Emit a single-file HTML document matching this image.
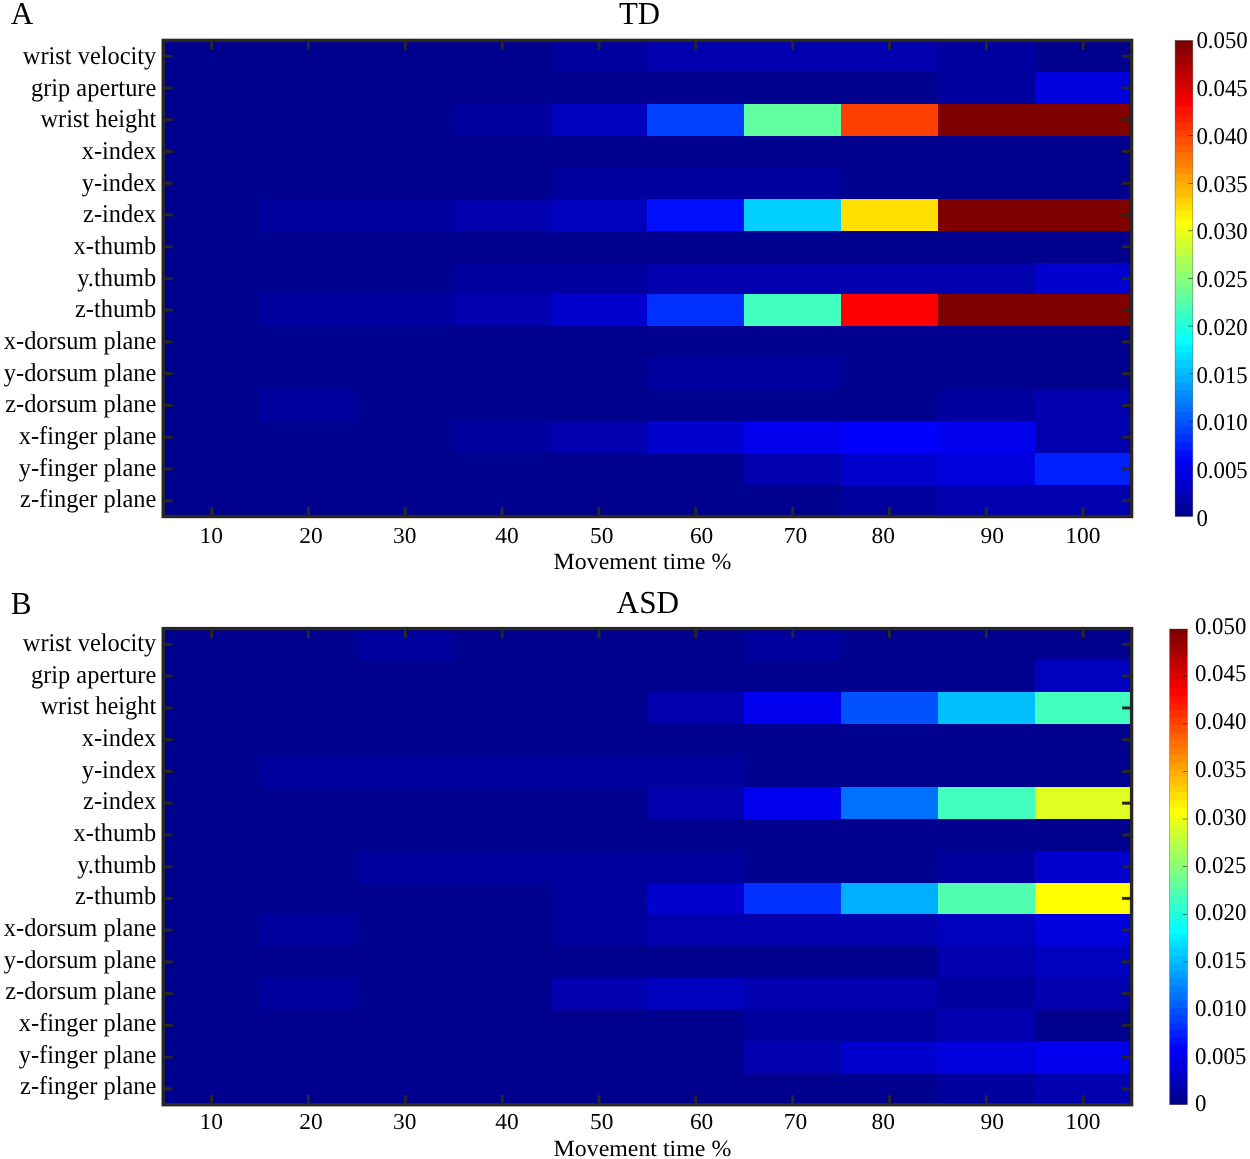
<!DOCTYPE html>
<html><head><meta charset="utf-8"><title>Figure</title>
<style>
html,body{margin:0;padding:0;background:#fff;}
body{width:1250px;height:1159px;overflow:hidden;}
svg{will-change:transform;display:block;position:absolute;left:0;top:0;}
text{text-rendering:geometricPrecision;font-family:"Liberation Serif",serif;font-size:24px;fill:#000;}
</style></head><body>
<svg width="1250" height="1159" viewBox="0 0 1250 1159">
<rect width="1250" height="1159" fill="#fff"/>
<rect x="163" y="40" width="388" height="32" fill="#00008F"/>
<rect x="551" y="40" width="96" height="32" fill="#00009F"/>
<rect x="647" y="40" width="291" height="32" fill="#0000AF"/>
<rect x="938" y="40" width="97" height="32" fill="#00009F"/>
<rect x="1035" y="40" width="97" height="32" fill="#00008F"/>
<rect x="163" y="72" width="775" height="32" fill="#00008F"/>
<rect x="938" y="72" width="97" height="32" fill="#00009F"/>
<rect x="1035" y="72" width="97" height="32" fill="#0000DF"/>
<rect x="163" y="104" width="291" height="32" fill="#00008F"/>
<rect x="454" y="104" width="97" height="32" fill="#00009F"/>
<rect x="551" y="104" width="96" height="32" fill="#0000BF"/>
<rect x="647" y="104" width="97" height="32" fill="#0040FF"/>
<rect x="744" y="104" width="97" height="32" fill="#60FF9F"/>
<rect x="841" y="104" width="97" height="32" fill="#FF4000"/>
<rect x="938" y="104" width="194" height="32" fill="#800000"/>
<rect x="163" y="136" width="969" height="31" fill="#00008F"/>
<rect x="163" y="167" width="388" height="32" fill="#00008F"/>
<rect x="551" y="167" width="290" height="32" fill="#00009F"/>
<rect x="841" y="167" width="291" height="32" fill="#00008F"/>
<rect x="163" y="199" width="97" height="32" fill="#00008F"/>
<rect x="260" y="199" width="194" height="32" fill="#00009F"/>
<rect x="454" y="199" width="97" height="32" fill="#0000AF"/>
<rect x="551" y="199" width="96" height="32" fill="#0000BF"/>
<rect x="647" y="199" width="97" height="32" fill="#0010FF"/>
<rect x="744" y="199" width="97" height="32" fill="#00CFFF"/>
<rect x="841" y="199" width="97" height="32" fill="#FFDF00"/>
<rect x="938" y="199" width="194" height="32" fill="#800000"/>
<rect x="163" y="231" width="969" height="32" fill="#00008F"/>
<rect x="163" y="263" width="291" height="31" fill="#00008F"/>
<rect x="454" y="263" width="193" height="31" fill="#00009F"/>
<rect x="647" y="263" width="388" height="31" fill="#0000AF"/>
<rect x="1035" y="263" width="97" height="31" fill="#0000CF"/>
<rect x="163" y="294" width="97" height="32" fill="#00008F"/>
<rect x="260" y="294" width="194" height="32" fill="#00009F"/>
<rect x="454" y="294" width="97" height="32" fill="#0000AF"/>
<rect x="551" y="294" width="96" height="32" fill="#0000CF"/>
<rect x="647" y="294" width="97" height="32" fill="#0030FF"/>
<rect x="744" y="294" width="97" height="32" fill="#40FFBF"/>
<rect x="841" y="294" width="97" height="32" fill="#FF0000"/>
<rect x="938" y="294" width="194" height="32" fill="#800000"/>
<rect x="163" y="326" width="969" height="32" fill="#00008F"/>
<rect x="163" y="358" width="484" height="32" fill="#00008F"/>
<rect x="647" y="358" width="194" height="32" fill="#00009F"/>
<rect x="841" y="358" width="291" height="32" fill="#00008F"/>
<rect x="163" y="390" width="97" height="31" fill="#00008F"/>
<rect x="260" y="390" width="97" height="31" fill="#00009F"/>
<rect x="357" y="390" width="581" height="31" fill="#00008F"/>
<rect x="938" y="390" width="97" height="31" fill="#00009F"/>
<rect x="1035" y="390" width="97" height="31" fill="#0000AF"/>
<rect x="163" y="421" width="291" height="32" fill="#00008F"/>
<rect x="454" y="421" width="97" height="32" fill="#00009F"/>
<rect x="551" y="421" width="96" height="32" fill="#0000AF"/>
<rect x="647" y="421" width="97" height="32" fill="#0000CF"/>
<rect x="744" y="421" width="97" height="32" fill="#0000EF"/>
<rect x="841" y="421" width="97" height="32" fill="#0000FF"/>
<rect x="938" y="421" width="97" height="32" fill="#0000EF"/>
<rect x="1035" y="421" width="97" height="32" fill="#0000AF"/>
<rect x="163" y="453" width="581" height="32" fill="#00008F"/>
<rect x="744" y="453" width="97" height="32" fill="#0000AF"/>
<rect x="841" y="453" width="97" height="32" fill="#0000CF"/>
<rect x="938" y="453" width="97" height="32" fill="#0000DF"/>
<rect x="1035" y="453" width="97" height="32" fill="#0020FF"/>
<rect x="163" y="485" width="678" height="31" fill="#00008F"/>
<rect x="841" y="485" width="97" height="31" fill="#00009F"/>
<rect x="938" y="485" width="194" height="31" fill="#0000AF"/>
<rect x="210.12" y="40.40" width="3" height="9.5" fill="#282724"/>
<rect x="210.12" y="507.00" width="3" height="9.5" fill="#282724"/>
<text transform="translate(211.30,543.30) scale(1.028,1)" text-anchor="middle" style="font-size:22.8px">10</text>
<rect x="306.96" y="40.40" width="3" height="9.5" fill="#282724"/>
<rect x="306.96" y="507.00" width="3" height="9.5" fill="#282724"/>
<text transform="translate(311.00,543.30) scale(1.028,1)" text-anchor="middle" style="font-size:22.8px">20</text>
<rect x="403.80" y="40.40" width="3" height="9.5" fill="#282724"/>
<rect x="403.80" y="507.00" width="3" height="9.5" fill="#282724"/>
<text transform="translate(404.70,543.30) scale(1.028,1)" text-anchor="middle" style="font-size:22.8px">30</text>
<rect x="500.64" y="40.40" width="3" height="9.5" fill="#282724"/>
<rect x="500.64" y="507.00" width="3" height="9.5" fill="#282724"/>
<text transform="translate(507.00,543.30) scale(1.028,1)" text-anchor="middle" style="font-size:22.8px">40</text>
<rect x="597.48" y="40.40" width="3" height="9.5" fill="#282724"/>
<rect x="597.48" y="507.00" width="3" height="9.5" fill="#282724"/>
<text transform="translate(601.80,543.30) scale(1.028,1)" text-anchor="middle" style="font-size:22.8px">50</text>
<rect x="694.32" y="40.40" width="3" height="9.5" fill="#282724"/>
<rect x="694.32" y="507.00" width="3" height="9.5" fill="#282724"/>
<text transform="translate(701.60,543.30) scale(1.028,1)" text-anchor="middle" style="font-size:22.8px">60</text>
<rect x="791.16" y="40.40" width="3" height="9.5" fill="#282724"/>
<rect x="791.16" y="507.00" width="3" height="9.5" fill="#282724"/>
<text transform="translate(795.50,543.30) scale(1.028,1)" text-anchor="middle" style="font-size:22.8px">70</text>
<rect x="888.00" y="40.40" width="3" height="9.5" fill="#282724"/>
<rect x="888.00" y="507.00" width="3" height="9.5" fill="#282724"/>
<text transform="translate(883.30,543.30) scale(1.028,1)" text-anchor="middle" style="font-size:22.8px">80</text>
<rect x="984.84" y="40.40" width="3" height="9.5" fill="#282724"/>
<rect x="984.84" y="507.00" width="3" height="9.5" fill="#282724"/>
<text transform="translate(992.20,543.30) scale(1.028,1)" text-anchor="middle" style="font-size:22.8px">90</text>
<rect x="1081.68" y="40.40" width="3" height="9.5" fill="#282724"/>
<rect x="1081.68" y="507.00" width="3" height="9.5" fill="#282724"/>
<text transform="translate(1082.90,543.30) scale(1.028,1)" text-anchor="middle" style="font-size:22.8px">100</text>
<rect x="163.20" y="54.77" width="9.5" height="3" fill="#282724"/>
<rect x="1122.10" y="54.77" width="9.5" height="3" fill="#282724"/>
<text transform="translate(156.30,64.07) scale(0.95,1)" text-anchor="end" style="font-size:25.7px">wrist velocity</text>
<rect x="163.20" y="86.51" width="9.5" height="3" fill="#282724"/>
<rect x="1122.10" y="86.51" width="9.5" height="3" fill="#282724"/>
<text transform="translate(156.30,95.74) scale(0.95,1)" text-anchor="end" style="font-size:25.7px">grip aperture</text>
<rect x="163.20" y="118.25" width="9.5" height="3" fill="#282724"/>
<rect x="1122.10" y="118.25" width="9.5" height="3" fill="#282724"/>
<text transform="translate(156.30,127.41) scale(0.95,1)" text-anchor="end" style="font-size:25.7px">wrist height</text>
<rect x="163.20" y="149.99" width="9.5" height="3" fill="#282724"/>
<rect x="1122.10" y="149.99" width="9.5" height="3" fill="#282724"/>
<text transform="translate(156.30,159.08) scale(0.95,1)" text-anchor="end" style="font-size:25.7px">x-index</text>
<rect x="163.20" y="181.73" width="9.5" height="3" fill="#282724"/>
<rect x="1122.10" y="181.73" width="9.5" height="3" fill="#282724"/>
<text transform="translate(156.30,190.75) scale(0.95,1)" text-anchor="end" style="font-size:25.7px">y-index</text>
<rect x="163.20" y="213.47" width="9.5" height="3" fill="#282724"/>
<rect x="1122.10" y="213.47" width="9.5" height="3" fill="#282724"/>
<text transform="translate(156.30,222.42) scale(0.95,1)" text-anchor="end" style="font-size:25.7px">z-index</text>
<rect x="163.20" y="245.21" width="9.5" height="3" fill="#282724"/>
<rect x="1122.10" y="245.21" width="9.5" height="3" fill="#282724"/>
<text transform="translate(156.30,254.09) scale(0.95,1)" text-anchor="end" style="font-size:25.7px">x-thumb</text>
<rect x="163.20" y="276.95" width="9.5" height="3" fill="#282724"/>
<rect x="1122.10" y="276.95" width="9.5" height="3" fill="#282724"/>
<text transform="translate(156.30,285.76) scale(0.95,1)" text-anchor="end" style="font-size:25.7px">y.thumb</text>
<rect x="163.20" y="308.69" width="9.5" height="3" fill="#282724"/>
<rect x="1122.10" y="308.69" width="9.5" height="3" fill="#282724"/>
<text transform="translate(156.30,317.43) scale(0.95,1)" text-anchor="end" style="font-size:25.7px">z-thumb</text>
<rect x="163.20" y="340.43" width="9.5" height="3" fill="#282724"/>
<rect x="1122.10" y="340.43" width="9.5" height="3" fill="#282724"/>
<text transform="translate(156.30,349.10) scale(0.95,1)" text-anchor="end" style="font-size:25.7px">x-dorsum plane</text>
<rect x="163.20" y="372.17" width="9.5" height="3" fill="#282724"/>
<rect x="1122.10" y="372.17" width="9.5" height="3" fill="#282724"/>
<text transform="translate(156.30,380.77) scale(0.95,1)" text-anchor="end" style="font-size:25.7px">y-dorsum plane</text>
<rect x="163.20" y="403.91" width="9.5" height="3" fill="#282724"/>
<rect x="1122.10" y="403.91" width="9.5" height="3" fill="#282724"/>
<text transform="translate(156.30,412.44) scale(0.95,1)" text-anchor="end" style="font-size:25.7px">z-dorsum plane</text>
<rect x="163.20" y="435.65" width="9.5" height="3" fill="#282724"/>
<rect x="1122.10" y="435.65" width="9.5" height="3" fill="#282724"/>
<text transform="translate(156.30,444.11) scale(0.95,1)" text-anchor="end" style="font-size:25.7px">x-finger plane</text>
<rect x="163.20" y="467.39" width="9.5" height="3" fill="#282724"/>
<rect x="1122.10" y="467.39" width="9.5" height="3" fill="#282724"/>
<text transform="translate(156.30,475.78) scale(0.95,1)" text-anchor="end" style="font-size:25.7px">y-finger plane</text>
<rect x="163.20" y="499.13" width="9.5" height="3" fill="#282724"/>
<rect x="1122.10" y="499.13" width="9.5" height="3" fill="#282724"/>
<text transform="translate(156.30,507.45) scale(0.95,1)" text-anchor="end" style="font-size:25.7px">z-finger plane</text>
<rect x="163.20" y="40.40" width="968.40" height="476.10" fill="none" stroke="#282724" stroke-width="3.4"/>
<text transform="translate(642.40,568.90) scale(1.03,1)" text-anchor="middle" style="font-size:23.2px">Movement time %</text>
<text transform="translate(639.40,24.40) scale(0.962,1)" text-anchor="middle" style="font-size:32px">TD</text>
<text transform="translate(10.70,24.40) scale(0.976,1)" text-anchor="start" style="font-size:32px">A</text>
<rect x="1175.10" y="509.00" width="17.70" height="7.50" fill="#00008F"/>
<rect x="1175.10" y="502.00" width="17.70" height="7.00" fill="#00009F"/>
<rect x="1175.10" y="494.00" width="17.70" height="8.00" fill="#0000AF"/>
<rect x="1175.10" y="487.00" width="17.70" height="7.00" fill="#0000BF"/>
<rect x="1175.10" y="479.00" width="17.70" height="8.00" fill="#0000CF"/>
<rect x="1175.10" y="472.00" width="17.70" height="7.00" fill="#0000DF"/>
<rect x="1175.10" y="464.00" width="17.70" height="8.00" fill="#0000EF"/>
<rect x="1175.10" y="457.00" width="17.70" height="7.00" fill="#0000FF"/>
<rect x="1175.10" y="450.00" width="17.70" height="7.00" fill="#0010FF"/>
<rect x="1175.10" y="442.00" width="17.70" height="8.00" fill="#0020FF"/>
<rect x="1175.10" y="435.00" width="17.70" height="7.00" fill="#0030FF"/>
<rect x="1175.10" y="427.00" width="17.70" height="8.00" fill="#0040FF"/>
<rect x="1175.10" y="420.00" width="17.70" height="7.00" fill="#0050FF"/>
<rect x="1175.10" y="412.00" width="17.70" height="8.00" fill="#0060FF"/>
<rect x="1175.10" y="405.00" width="17.70" height="7.00" fill="#0070FF"/>
<rect x="1175.10" y="397.00" width="17.70" height="8.00" fill="#0080FF"/>
<rect x="1175.10" y="390.00" width="17.70" height="7.00" fill="#008FFF"/>
<rect x="1175.10" y="383.00" width="17.70" height="7.00" fill="#009FFF"/>
<rect x="1175.10" y="375.00" width="17.70" height="8.00" fill="#00AFFF"/>
<rect x="1175.10" y="368.00" width="17.70" height="7.00" fill="#00BFFF"/>
<rect x="1175.10" y="360.00" width="17.70" height="8.00" fill="#00CFFF"/>
<rect x="1175.10" y="353.00" width="17.70" height="7.00" fill="#00DFFF"/>
<rect x="1175.10" y="345.00" width="17.70" height="8.00" fill="#00EFFF"/>
<rect x="1175.10" y="338.00" width="17.70" height="7.00" fill="#00FFFF"/>
<rect x="1175.10" y="331.00" width="17.70" height="7.00" fill="#10FFEF"/>
<rect x="1175.10" y="323.00" width="17.70" height="8.00" fill="#20FFDF"/>
<rect x="1175.10" y="316.00" width="17.70" height="7.00" fill="#30FFCF"/>
<rect x="1175.10" y="308.00" width="17.70" height="8.00" fill="#40FFBF"/>
<rect x="1175.10" y="301.00" width="17.70" height="7.00" fill="#50FFAF"/>
<rect x="1175.10" y="293.00" width="17.70" height="8.00" fill="#60FF9F"/>
<rect x="1175.10" y="286.00" width="17.70" height="7.00" fill="#70FF8F"/>
<rect x="1175.10" y="278.00" width="17.70" height="8.00" fill="#80FF80"/>
<rect x="1175.10" y="271.00" width="17.70" height="7.00" fill="#8FFF70"/>
<rect x="1175.10" y="264.00" width="17.70" height="7.00" fill="#9FFF60"/>
<rect x="1175.10" y="256.00" width="17.70" height="8.00" fill="#AFFF50"/>
<rect x="1175.10" y="249.00" width="17.70" height="7.00" fill="#BFFF40"/>
<rect x="1175.10" y="241.00" width="17.70" height="8.00" fill="#CFFF30"/>
<rect x="1175.10" y="234.00" width="17.70" height="7.00" fill="#DFFF20"/>
<rect x="1175.10" y="226.00" width="17.70" height="8.00" fill="#EFFF10"/>
<rect x="1175.10" y="219.00" width="17.70" height="7.00" fill="#FFFF00"/>
<rect x="1175.10" y="211.00" width="17.70" height="8.00" fill="#FFEF00"/>
<rect x="1175.10" y="204.00" width="17.70" height="7.00" fill="#FFDF00"/>
<rect x="1175.10" y="197.00" width="17.70" height="7.00" fill="#FFCF00"/>
<rect x="1175.10" y="189.00" width="17.70" height="8.00" fill="#FFBF00"/>
<rect x="1175.10" y="182.00" width="17.70" height="7.00" fill="#FFAF00"/>
<rect x="1175.10" y="174.00" width="17.70" height="8.00" fill="#FF9F00"/>
<rect x="1175.10" y="167.00" width="17.70" height="7.00" fill="#FF8F00"/>
<rect x="1175.10" y="159.00" width="17.70" height="8.00" fill="#FF8000"/>
<rect x="1175.10" y="152.00" width="17.70" height="7.00" fill="#FF7000"/>
<rect x="1175.10" y="145.00" width="17.70" height="7.00" fill="#FF6000"/>
<rect x="1175.10" y="137.00" width="17.70" height="8.00" fill="#FF5000"/>
<rect x="1175.10" y="130.00" width="17.70" height="7.00" fill="#FF4000"/>
<rect x="1175.10" y="122.00" width="17.70" height="8.00" fill="#FF3000"/>
<rect x="1175.10" y="115.00" width="17.70" height="7.00" fill="#FF2000"/>
<rect x="1175.10" y="107.00" width="17.70" height="8.00" fill="#FF1000"/>
<rect x="1175.10" y="100.00" width="17.70" height="7.00" fill="#FF0000"/>
<rect x="1175.10" y="92.00" width="17.70" height="8.00" fill="#EF0000"/>
<rect x="1175.10" y="85.00" width="17.70" height="7.00" fill="#DF0000"/>
<rect x="1175.10" y="78.00" width="17.70" height="7.00" fill="#CF0000"/>
<rect x="1175.10" y="70.00" width="17.70" height="8.00" fill="#BF0000"/>
<rect x="1175.10" y="63.00" width="17.70" height="7.00" fill="#AF0000"/>
<rect x="1175.10" y="55.00" width="17.70" height="8.00" fill="#9F0000"/>
<rect x="1175.10" y="48.00" width="17.70" height="7.00" fill="#8F0000"/>
<rect x="1175.10" y="40.40" width="17.70" height="7.60" fill="#800000"/>
<rect x="1175.10" y="40.40" width="17.70" height="476.10" fill="none" stroke="#333" stroke-opacity="0.6" stroke-width="0.6"/>
<text transform="translate(1196.40,525.90) scale(0.95,1)" text-anchor="start" style="font-size:24.0px">0</text>
<rect x="1188.30" y="468.59" width="4.5" height="0.6" fill="#222"/>
<text transform="translate(1196.40,478.13) scale(0.95,1)" text-anchor="start" style="font-size:24.0px">0.005</text>
<rect x="1188.30" y="420.98" width="4.5" height="0.6" fill="#222"/>
<text transform="translate(1196.40,430.36) scale(0.95,1)" text-anchor="start" style="font-size:24.0px">0.010</text>
<rect x="1188.30" y="373.37" width="4.5" height="0.6" fill="#222"/>
<text transform="translate(1196.40,382.59) scale(0.95,1)" text-anchor="start" style="font-size:24.0px">0.015</text>
<rect x="1188.30" y="325.76" width="4.5" height="0.6" fill="#222"/>
<text transform="translate(1196.40,334.82) scale(0.95,1)" text-anchor="start" style="font-size:24.0px">0.020</text>
<rect x="1188.30" y="278.15" width="4.5" height="0.6" fill="#222"/>
<text transform="translate(1196.40,287.05) scale(0.95,1)" text-anchor="start" style="font-size:24.0px">0.025</text>
<rect x="1188.30" y="230.54" width="4.5" height="0.6" fill="#222"/>
<text transform="translate(1196.40,239.28) scale(0.95,1)" text-anchor="start" style="font-size:24.0px">0.030</text>
<rect x="1188.30" y="182.93" width="4.5" height="0.6" fill="#222"/>
<text transform="translate(1196.40,191.51) scale(0.95,1)" text-anchor="start" style="font-size:24.0px">0.035</text>
<rect x="1188.30" y="135.32" width="4.5" height="0.6" fill="#222"/>
<text transform="translate(1196.40,143.74) scale(0.95,1)" text-anchor="start" style="font-size:24.0px">0.040</text>
<rect x="1188.30" y="87.71" width="4.5" height="0.6" fill="#222"/>
<text transform="translate(1196.40,95.97) scale(0.95,1)" text-anchor="start" style="font-size:24.0px">0.045</text>
<text transform="translate(1196.40,48.20) scale(0.95,1)" text-anchor="start" style="font-size:24.0px">0.050</text>
<rect x="163" y="629" width="194" height="31" fill="#00008F"/>
<rect x="357" y="629" width="97" height="31" fill="#00009F"/>
<rect x="454" y="629" width="290" height="31" fill="#00008F"/>
<rect x="744" y="629" width="97" height="31" fill="#00009F"/>
<rect x="841" y="629" width="291" height="31" fill="#00008F"/>
<rect x="163" y="660" width="872" height="32" fill="#00008F"/>
<rect x="1035" y="660" width="97" height="32" fill="#0000BF"/>
<rect x="163" y="692" width="484" height="32" fill="#00008F"/>
<rect x="647" y="692" width="97" height="32" fill="#0000AF"/>
<rect x="744" y="692" width="97" height="32" fill="#0000EF"/>
<rect x="841" y="692" width="97" height="32" fill="#0050FF"/>
<rect x="938" y="692" width="97" height="32" fill="#00BFFF"/>
<rect x="1035" y="692" width="97" height="32" fill="#40FFBF"/>
<rect x="163" y="724" width="969" height="32" fill="#00008F"/>
<rect x="163" y="756" width="97" height="31" fill="#00008F"/>
<rect x="260" y="756" width="484" height="31" fill="#00009F"/>
<rect x="744" y="756" width="388" height="31" fill="#00008F"/>
<rect x="163" y="787" width="484" height="32" fill="#00008F"/>
<rect x="647" y="787" width="97" height="32" fill="#0000AF"/>
<rect x="744" y="787" width="97" height="32" fill="#0000EF"/>
<rect x="841" y="787" width="97" height="32" fill="#0070FF"/>
<rect x="938" y="787" width="97" height="32" fill="#40FFBF"/>
<rect x="1035" y="787" width="97" height="32" fill="#DFFF20"/>
<rect x="163" y="819" width="969" height="32" fill="#00008F"/>
<rect x="163" y="851" width="194" height="32" fill="#00008F"/>
<rect x="357" y="851" width="387" height="32" fill="#00009F"/>
<rect x="744" y="851" width="194" height="32" fill="#00008F"/>
<rect x="938" y="851" width="97" height="32" fill="#00009F"/>
<rect x="1035" y="851" width="97" height="32" fill="#0000CF"/>
<rect x="163" y="883" width="388" height="31" fill="#00008F"/>
<rect x="551" y="883" width="96" height="31" fill="#00009F"/>
<rect x="647" y="883" width="97" height="31" fill="#0000CF"/>
<rect x="744" y="883" width="97" height="31" fill="#0030FF"/>
<rect x="841" y="883" width="97" height="31" fill="#00AFFF"/>
<rect x="938" y="883" width="97" height="31" fill="#50FFAF"/>
<rect x="1035" y="883" width="97" height="31" fill="#FFFF00"/>
<rect x="163" y="914" width="97" height="32" fill="#00008F"/>
<rect x="260" y="914" width="97" height="32" fill="#00009F"/>
<rect x="357" y="914" width="194" height="32" fill="#00008F"/>
<rect x="551" y="914" width="96" height="32" fill="#00009F"/>
<rect x="647" y="914" width="291" height="32" fill="#0000AF"/>
<rect x="938" y="914" width="97" height="32" fill="#0000BF"/>
<rect x="1035" y="914" width="97" height="32" fill="#0000DF"/>
<rect x="163" y="946" width="775" height="32" fill="#00008F"/>
<rect x="938" y="946" width="97" height="32" fill="#0000AF"/>
<rect x="1035" y="946" width="97" height="32" fill="#0000BF"/>
<rect x="163" y="978" width="97" height="31" fill="#00008F"/>
<rect x="260" y="978" width="97" height="31" fill="#00009F"/>
<rect x="357" y="978" width="194" height="31" fill="#00008F"/>
<rect x="551" y="978" width="96" height="31" fill="#0000AF"/>
<rect x="647" y="978" width="97" height="31" fill="#0000BF"/>
<rect x="744" y="978" width="194" height="31" fill="#0000AF"/>
<rect x="938" y="978" width="97" height="31" fill="#00009F"/>
<rect x="1035" y="978" width="97" height="31" fill="#0000AF"/>
<rect x="163" y="1009" width="581" height="32" fill="#00008F"/>
<rect x="744" y="1009" width="194" height="32" fill="#00009F"/>
<rect x="938" y="1009" width="97" height="32" fill="#0000AF"/>
<rect x="1035" y="1009" width="97" height="32" fill="#00008F"/>
<rect x="163" y="1041" width="581" height="32" fill="#00008F"/>
<rect x="744" y="1041" width="97" height="32" fill="#0000AF"/>
<rect x="841" y="1041" width="97" height="32" fill="#0000CF"/>
<rect x="938" y="1041" width="97" height="32" fill="#0000DF"/>
<rect x="1035" y="1041" width="97" height="32" fill="#0000EF"/>
<rect x="163" y="1073" width="775" height="32" fill="#00008F"/>
<rect x="938" y="1073" width="97" height="32" fill="#00009F"/>
<rect x="1035" y="1073" width="97" height="32" fill="#0000AF"/>
<rect x="210.12" y="628.60" width="3" height="9.5" fill="#282724"/>
<rect x="210.12" y="1095.20" width="3" height="9.5" fill="#282724"/>
<text transform="translate(211.30,1129.40) scale(1.028,1)" text-anchor="middle" style="font-size:22.8px">10</text>
<rect x="306.96" y="628.60" width="3" height="9.5" fill="#282724"/>
<rect x="306.96" y="1095.20" width="3" height="9.5" fill="#282724"/>
<text transform="translate(311.00,1129.40) scale(1.028,1)" text-anchor="middle" style="font-size:22.8px">20</text>
<rect x="403.80" y="628.60" width="3" height="9.5" fill="#282724"/>
<rect x="403.80" y="1095.20" width="3" height="9.5" fill="#282724"/>
<text transform="translate(404.70,1129.40) scale(1.028,1)" text-anchor="middle" style="font-size:22.8px">30</text>
<rect x="500.64" y="628.60" width="3" height="9.5" fill="#282724"/>
<rect x="500.64" y="1095.20" width="3" height="9.5" fill="#282724"/>
<text transform="translate(507.00,1129.40) scale(1.028,1)" text-anchor="middle" style="font-size:22.8px">40</text>
<rect x="597.48" y="628.60" width="3" height="9.5" fill="#282724"/>
<rect x="597.48" y="1095.20" width="3" height="9.5" fill="#282724"/>
<text transform="translate(601.80,1129.40) scale(1.028,1)" text-anchor="middle" style="font-size:22.8px">50</text>
<rect x="694.32" y="628.60" width="3" height="9.5" fill="#282724"/>
<rect x="694.32" y="1095.20" width="3" height="9.5" fill="#282724"/>
<text transform="translate(701.60,1129.40) scale(1.028,1)" text-anchor="middle" style="font-size:22.8px">60</text>
<rect x="791.16" y="628.60" width="3" height="9.5" fill="#282724"/>
<rect x="791.16" y="1095.20" width="3" height="9.5" fill="#282724"/>
<text transform="translate(795.50,1129.40) scale(1.028,1)" text-anchor="middle" style="font-size:22.8px">70</text>
<rect x="888.00" y="628.60" width="3" height="9.5" fill="#282724"/>
<rect x="888.00" y="1095.20" width="3" height="9.5" fill="#282724"/>
<text transform="translate(883.30,1129.40) scale(1.028,1)" text-anchor="middle" style="font-size:22.8px">80</text>
<rect x="984.84" y="628.60" width="3" height="9.5" fill="#282724"/>
<rect x="984.84" y="1095.20" width="3" height="9.5" fill="#282724"/>
<text transform="translate(992.20,1129.40) scale(1.028,1)" text-anchor="middle" style="font-size:22.8px">90</text>
<rect x="1081.68" y="628.60" width="3" height="9.5" fill="#282724"/>
<rect x="1081.68" y="1095.20" width="3" height="9.5" fill="#282724"/>
<text transform="translate(1082.90,1129.40) scale(1.028,1)" text-anchor="middle" style="font-size:22.8px">100</text>
<rect x="163.20" y="642.97" width="9.5" height="3" fill="#282724"/>
<rect x="1122.10" y="642.97" width="9.5" height="3" fill="#282724"/>
<text transform="translate(156.30,650.97) scale(0.95,1)" text-anchor="end" style="font-size:25.7px">wrist velocity</text>
<rect x="163.20" y="674.71" width="9.5" height="3" fill="#282724"/>
<rect x="1122.10" y="674.71" width="9.5" height="3" fill="#282724"/>
<text transform="translate(156.30,682.64) scale(0.95,1)" text-anchor="end" style="font-size:25.7px">grip aperture</text>
<rect x="163.20" y="706.45" width="9.5" height="3" fill="#282724"/>
<rect x="1122.10" y="706.45" width="9.5" height="3" fill="#282724"/>
<text transform="translate(156.30,714.31) scale(0.95,1)" text-anchor="end" style="font-size:25.7px">wrist height</text>
<rect x="163.20" y="738.19" width="9.5" height="3" fill="#282724"/>
<rect x="1122.10" y="738.19" width="9.5" height="3" fill="#282724"/>
<text transform="translate(156.30,745.98) scale(0.95,1)" text-anchor="end" style="font-size:25.7px">x-index</text>
<rect x="163.20" y="769.93" width="9.5" height="3" fill="#282724"/>
<rect x="1122.10" y="769.93" width="9.5" height="3" fill="#282724"/>
<text transform="translate(156.30,777.65) scale(0.95,1)" text-anchor="end" style="font-size:25.7px">y-index</text>
<rect x="163.20" y="801.67" width="9.5" height="3" fill="#282724"/>
<rect x="1122.10" y="801.67" width="9.5" height="3" fill="#282724"/>
<text transform="translate(156.30,809.32) scale(0.95,1)" text-anchor="end" style="font-size:25.7px">z-index</text>
<rect x="163.20" y="833.41" width="9.5" height="3" fill="#282724"/>
<rect x="1122.10" y="833.41" width="9.5" height="3" fill="#282724"/>
<text transform="translate(156.30,840.99) scale(0.95,1)" text-anchor="end" style="font-size:25.7px">x-thumb</text>
<rect x="163.20" y="865.15" width="9.5" height="3" fill="#282724"/>
<rect x="1122.10" y="865.15" width="9.5" height="3" fill="#282724"/>
<text transform="translate(156.30,872.66) scale(0.95,1)" text-anchor="end" style="font-size:25.7px">y.thumb</text>
<rect x="163.20" y="896.89" width="9.5" height="3" fill="#282724"/>
<rect x="1122.10" y="896.89" width="9.5" height="3" fill="#282724"/>
<text transform="translate(156.30,904.33) scale(0.95,1)" text-anchor="end" style="font-size:25.7px">z-thumb</text>
<rect x="163.20" y="928.63" width="9.5" height="3" fill="#282724"/>
<rect x="1122.10" y="928.63" width="9.5" height="3" fill="#282724"/>
<text transform="translate(156.30,936.00) scale(0.95,1)" text-anchor="end" style="font-size:25.7px">x-dorsum plane</text>
<rect x="163.20" y="960.37" width="9.5" height="3" fill="#282724"/>
<rect x="1122.10" y="960.37" width="9.5" height="3" fill="#282724"/>
<text transform="translate(156.30,967.67) scale(0.95,1)" text-anchor="end" style="font-size:25.7px">y-dorsum plane</text>
<rect x="163.20" y="992.11" width="9.5" height="3" fill="#282724"/>
<rect x="1122.10" y="992.11" width="9.5" height="3" fill="#282724"/>
<text transform="translate(156.30,999.34) scale(0.95,1)" text-anchor="end" style="font-size:25.7px">z-dorsum plane</text>
<rect x="163.20" y="1023.85" width="9.5" height="3" fill="#282724"/>
<rect x="1122.10" y="1023.85" width="9.5" height="3" fill="#282724"/>
<text transform="translate(156.30,1031.01) scale(0.95,1)" text-anchor="end" style="font-size:25.7px">x-finger plane</text>
<rect x="163.20" y="1055.59" width="9.5" height="3" fill="#282724"/>
<rect x="1122.10" y="1055.59" width="9.5" height="3" fill="#282724"/>
<text transform="translate(156.30,1062.68) scale(0.95,1)" text-anchor="end" style="font-size:25.7px">y-finger plane</text>
<rect x="163.20" y="1087.33" width="9.5" height="3" fill="#282724"/>
<rect x="1122.10" y="1087.33" width="9.5" height="3" fill="#282724"/>
<text transform="translate(156.30,1094.35) scale(0.95,1)" text-anchor="end" style="font-size:25.7px">z-finger plane</text>
<rect x="163.20" y="628.60" width="968.40" height="476.10" fill="none" stroke="#282724" stroke-width="3.4"/>
<text transform="translate(642.40,1155.90) scale(1.03,1)" text-anchor="middle" style="font-size:23.2px">Movement time %</text>
<text transform="translate(647.80,613.20) scale(0.975,1)" text-anchor="middle" style="font-size:32px">ASD</text>
<text transform="translate(10.70,614.20) scale(0.976,1)" text-anchor="start" style="font-size:32px">B</text>
<rect x="1169.70" y="1097.00" width="17.70" height="7.70" fill="#00008F"/>
<rect x="1169.70" y="1090.00" width="17.70" height="7.00" fill="#00009F"/>
<rect x="1169.70" y="1082.00" width="17.70" height="8.00" fill="#0000AF"/>
<rect x="1169.70" y="1075.00" width="17.70" height="7.00" fill="#0000BF"/>
<rect x="1169.70" y="1068.00" width="17.70" height="7.00" fill="#0000CF"/>
<rect x="1169.70" y="1060.00" width="17.70" height="8.00" fill="#0000DF"/>
<rect x="1169.70" y="1053.00" width="17.70" height="7.00" fill="#0000EF"/>
<rect x="1169.70" y="1045.00" width="17.70" height="8.00" fill="#0000FF"/>
<rect x="1169.70" y="1038.00" width="17.70" height="7.00" fill="#0010FF"/>
<rect x="1169.70" y="1030.00" width="17.70" height="8.00" fill="#0020FF"/>
<rect x="1169.70" y="1023.00" width="17.70" height="7.00" fill="#0030FF"/>
<rect x="1169.70" y="1015.00" width="17.70" height="8.00" fill="#0040FF"/>
<rect x="1169.70" y="1008.00" width="17.70" height="7.00" fill="#0050FF"/>
<rect x="1169.70" y="1001.00" width="17.70" height="7.00" fill="#0060FF"/>
<rect x="1169.70" y="993.00" width="17.70" height="8.00" fill="#0070FF"/>
<rect x="1169.70" y="986.00" width="17.70" height="7.00" fill="#0080FF"/>
<rect x="1169.70" y="978.00" width="17.70" height="8.00" fill="#008FFF"/>
<rect x="1169.70" y="971.00" width="17.70" height="7.00" fill="#009FFF"/>
<rect x="1169.70" y="963.00" width="17.70" height="8.00" fill="#00AFFF"/>
<rect x="1169.70" y="956.00" width="17.70" height="7.00" fill="#00BFFF"/>
<rect x="1169.70" y="948.00" width="17.70" height="8.00" fill="#00CFFF"/>
<rect x="1169.70" y="941.00" width="17.70" height="7.00" fill="#00DFFF"/>
<rect x="1169.70" y="934.00" width="17.70" height="7.00" fill="#00EFFF"/>
<rect x="1169.70" y="926.00" width="17.70" height="8.00" fill="#00FFFF"/>
<rect x="1169.70" y="919.00" width="17.70" height="7.00" fill="#10FFEF"/>
<rect x="1169.70" y="911.00" width="17.70" height="8.00" fill="#20FFDF"/>
<rect x="1169.70" y="904.00" width="17.70" height="7.00" fill="#30FFCF"/>
<rect x="1169.70" y="896.00" width="17.70" height="8.00" fill="#40FFBF"/>
<rect x="1169.70" y="889.00" width="17.70" height="7.00" fill="#50FFAF"/>
<rect x="1169.70" y="882.00" width="17.70" height="7.00" fill="#60FF9F"/>
<rect x="1169.70" y="874.00" width="17.70" height="8.00" fill="#70FF8F"/>
<rect x="1169.70" y="867.00" width="17.70" height="7.00" fill="#80FF80"/>
<rect x="1169.70" y="859.00" width="17.70" height="8.00" fill="#8FFF70"/>
<rect x="1169.70" y="852.00" width="17.70" height="7.00" fill="#9FFF60"/>
<rect x="1169.70" y="844.00" width="17.70" height="8.00" fill="#AFFF50"/>
<rect x="1169.70" y="837.00" width="17.70" height="7.00" fill="#BFFF40"/>
<rect x="1169.70" y="829.00" width="17.70" height="8.00" fill="#CFFF30"/>
<rect x="1169.70" y="822.00" width="17.70" height="7.00" fill="#DFFF20"/>
<rect x="1169.70" y="815.00" width="17.70" height="7.00" fill="#EFFF10"/>
<rect x="1169.70" y="807.00" width="17.70" height="8.00" fill="#FFFF00"/>
<rect x="1169.70" y="800.00" width="17.70" height="7.00" fill="#FFEF00"/>
<rect x="1169.70" y="792.00" width="17.70" height="8.00" fill="#FFDF00"/>
<rect x="1169.70" y="785.00" width="17.70" height="7.00" fill="#FFCF00"/>
<rect x="1169.70" y="777.00" width="17.70" height="8.00" fill="#FFBF00"/>
<rect x="1169.70" y="770.00" width="17.70" height="7.00" fill="#FFAF00"/>
<rect x="1169.70" y="763.00" width="17.70" height="7.00" fill="#FF9F00"/>
<rect x="1169.70" y="755.00" width="17.70" height="8.00" fill="#FF8F00"/>
<rect x="1169.70" y="748.00" width="17.70" height="7.00" fill="#FF8000"/>
<rect x="1169.70" y="740.00" width="17.70" height="8.00" fill="#FF7000"/>
<rect x="1169.70" y="733.00" width="17.70" height="7.00" fill="#FF6000"/>
<rect x="1169.70" y="725.00" width="17.70" height="8.00" fill="#FF5000"/>
<rect x="1169.70" y="718.00" width="17.70" height="7.00" fill="#FF4000"/>
<rect x="1169.70" y="710.00" width="17.70" height="8.00" fill="#FF3000"/>
<rect x="1169.70" y="703.00" width="17.70" height="7.00" fill="#FF2000"/>
<rect x="1169.70" y="696.00" width="17.70" height="7.00" fill="#FF1000"/>
<rect x="1169.70" y="688.00" width="17.70" height="8.00" fill="#FF0000"/>
<rect x="1169.70" y="681.00" width="17.70" height="7.00" fill="#EF0000"/>
<rect x="1169.70" y="673.00" width="17.70" height="8.00" fill="#DF0000"/>
<rect x="1169.70" y="666.00" width="17.70" height="7.00" fill="#CF0000"/>
<rect x="1169.70" y="658.00" width="17.70" height="8.00" fill="#BF0000"/>
<rect x="1169.70" y="651.00" width="17.70" height="7.00" fill="#AF0000"/>
<rect x="1169.70" y="643.00" width="17.70" height="8.00" fill="#9F0000"/>
<rect x="1169.70" y="636.00" width="17.70" height="7.00" fill="#8F0000"/>
<rect x="1169.70" y="629.00" width="17.70" height="7.00" fill="#800000"/>
<rect x="1169.70" y="629.00" width="17.70" height="475.70" fill="none" stroke="#333" stroke-opacity="0.6" stroke-width="0.6"/>
<text transform="translate(1195.00,1111.30) scale(0.95,1)" text-anchor="start" style="font-size:24.0px">0</text>
<rect x="1182.90" y="1056.79" width="4.5" height="0.6" fill="#222"/>
<text transform="translate(1195.00,1063.54) scale(0.95,1)" text-anchor="start" style="font-size:24.0px">0.005</text>
<rect x="1182.90" y="1009.18" width="4.5" height="0.6" fill="#222"/>
<text transform="translate(1195.00,1015.78) scale(0.95,1)" text-anchor="start" style="font-size:24.0px">0.010</text>
<rect x="1182.90" y="961.57" width="4.5" height="0.6" fill="#222"/>
<text transform="translate(1195.00,968.02) scale(0.95,1)" text-anchor="start" style="font-size:24.0px">0.015</text>
<rect x="1182.90" y="913.96" width="4.5" height="0.6" fill="#222"/>
<text transform="translate(1195.00,920.26) scale(0.95,1)" text-anchor="start" style="font-size:24.0px">0.020</text>
<rect x="1182.90" y="866.35" width="4.5" height="0.6" fill="#222"/>
<text transform="translate(1195.00,872.50) scale(0.95,1)" text-anchor="start" style="font-size:24.0px">0.025</text>
<rect x="1182.90" y="818.74" width="4.5" height="0.6" fill="#222"/>
<text transform="translate(1195.00,824.74) scale(0.95,1)" text-anchor="start" style="font-size:24.0px">0.030</text>
<rect x="1182.90" y="771.13" width="4.5" height="0.6" fill="#222"/>
<text transform="translate(1195.00,776.98) scale(0.95,1)" text-anchor="start" style="font-size:24.0px">0.035</text>
<rect x="1182.90" y="723.52" width="4.5" height="0.6" fill="#222"/>
<text transform="translate(1195.00,729.22) scale(0.95,1)" text-anchor="start" style="font-size:24.0px">0.040</text>
<rect x="1182.90" y="675.91" width="4.5" height="0.6" fill="#222"/>
<text transform="translate(1195.00,681.46) scale(0.95,1)" text-anchor="start" style="font-size:24.0px">0.045</text>
<text transform="translate(1195.00,633.70) scale(0.95,1)" text-anchor="start" style="font-size:24.0px">0.050</text>
</svg>
</body></html>
